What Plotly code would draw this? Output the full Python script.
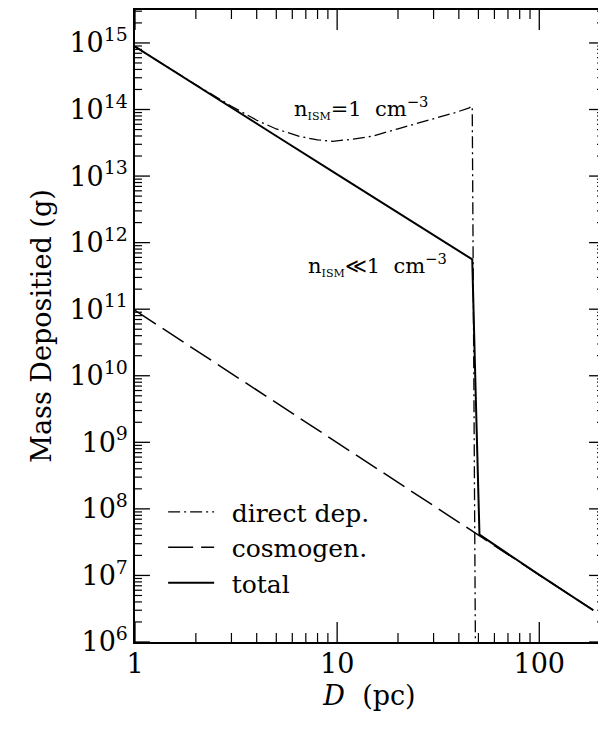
import plotly.graph_objects as go

# ---- data ----
D_direct = [1, 2, 3, 4, 5, 6.5, 8, 9.5, 12, 15, 20, 25, 30, 38, 44.7, 46.6, 48.3]
M_direct = [8.8e14, 2.35e14, 1.12e14, 6.9e13, 5.1e13, 3.95e13, 3.5e13, 3.33e13,
            3.59e13, 3.98e13, 5.13e13, 6.17e13, 7.24e13, 8.9e13, 1.05e14, 1.12e14, 1.0e6]

D_cosmo = [1, 10, 50, 185]
M_cosmo = [9.6e10, 1.0e9, 4.1e7, 3.0e6]

D_total = [1, 2, 5, 10, 20, 46.6, 48.5, 50.6, 100, 185]
M_total = [8.8e14, 2.35e14, 4.0e13, 1.06e13, 2.8e12, 5.6e11, 5.0e9, 4.1e7, 1.02e7, 3.0e6]

x_tickvals = [1, 10, 100]
x_ticktext = ["1", "10", "100"]
y_exponents = list(range(6, 16))
y_tickvals = [10.0 ** e for e in y_exponents]
y_ticktext = ["10<sup>%d</sup>" % e for e in y_exponents]

x_minor = [m * 10 ** e for e in range(0, 3) for m in range(2, 10)]
y_minor = [m * 10.0 ** e for e in range(6, 16) for m in range(2, 10)]

FONT = "DejaVu Serif"
XRANGE = [0, 2.3202]
YRANGE = [6, 15.495]
W, H = 598, 723
ML, MR, MT, MB = 127, 0, 1, 89

x_lo, x_hi = 10 ** XRANGE[0], 10 ** XRANGE[1]
y_lo, y_hi = 10 ** YRANGE[0], 10 ** YRANGE[1]
x_minor = [v for v in x_minor if v <= x_hi]
y_minor = [v for v in y_minor if v <= y_hi]

# pixels per decade of the two log axes (from the layout size)
px_dec_x = (W - ML - MR) / (XRANGE[1] - XRANGE[0])
px_dec_y = (H - MT - MB) / (YRANGE[1] - YRANGE[0])

fig = go.Figure()
fig.add_trace(go.Scatter(x=D_direct, y=M_direct, mode="lines", name="\u2002direct dep.",
                         line=dict(color="black", width=1.3, dash="12px,4px,2px,4px")))
fig.add_trace(go.Scatter(x=D_cosmo, y=M_cosmo, mode="lines", name="\u2002cosmogen.",
                         line=dict(color="black", width=1.5, dash="25px,8px")))
fig.add_trace(go.Scatter(x=D_total, y=M_total, mode="lines", name="\u2002total",
                         line=dict(color="black", width=2)))


# inside tick marks on all four frame sides, drawn as short line segments
def xtick_trace(vals, length_px, width):
    f = 10 ** (length_px / px_dec_y)
    xs, ys = [], []
    for v in vals:
        xs += [v, v, None, v, v, None]
        ys += [y_lo, y_lo * f, None, y_hi, y_hi / f, None]
    return go.Scatter(x=xs, y=ys, mode="lines", showlegend=False, hoverinfo="skip",
                      line=dict(color="black", width=width))


def ytick_trace(vals, length_px, width):
    f = 10 ** (length_px / px_dec_x)
    xs, ys = [], []
    for v in vals:
        xs += [x_lo, x_lo * f, None, x_hi, x_hi / f, None]
        ys += [v, v, None, v, v, None]
    return go.Scatter(x=xs, y=ys, mode="lines", showlegend=False, hoverinfo="skip",
                      line=dict(color="black", width=width))


fig.add_trace(xtick_trace(x_tickvals, 20, 1.3))
fig.add_trace(xtick_trace(x_minor, 9, 1.2))
fig.add_trace(ytick_trace(y_tickvals, 15, 1.3))
fig.add_trace(ytick_trace(y_minor, 7, 1.2))

fig.update_layout(
    xaxis=dict(type="log", range=XRANGE, tickmode="array",
               tickvals=x_tickvals, ticktext=x_ticktext, ticks="",
               ticklabelstandoff=-3,
               showline=True, linecolor="black", linewidth=1.5, mirror=True,
               showgrid=False, zeroline=False,
               tickfont=dict(family=FONT, size=27, color="black"),
               title=dict(text="<i>D</i>  (pc)", font=dict(family=FONT, size=27, color="black"),
                          standoff=8)),
    yaxis=dict(type="log", range=YRANGE, tickmode="array",
               tickvals=y_tickvals, ticktext=y_ticktext, ticks="",
               showline=True, linecolor="black", linewidth=1.5, mirror=True,
               showgrid=False, zeroline=False,
               tickfont=dict(family=FONT, size=27, color="black"),
               title=dict(text="Mass Depositied (g)", font=dict(family=FONT, size=27, color="black"),
                          standoff=10)),
)

fig.add_annotation(x=0.775, y=14.025, xref="x", yref="y", xanchor="left", yanchor="middle",
                   showarrow=False,
                   text="n<sub><span style='font-size:11px'>ISM</span></sub>=1\u00a0\u00a0cm<sup>\u22123</sup>",
                   font=dict(family=FONT, size=21, color="black"))
fig.add_annotation(x=0.847, y=11.67, xref="x", yref="y", xanchor="left", yanchor="middle",
                   showarrow=False,
                   text="n<sub><span style='font-size:11px'>ISM</span></sub>\u226a1\u00a0\u00a0cm<sup>\u22123</sup>",
                   font=dict(family=FONT, size=21, color="black"))

fig.update_layout(
    width=W, height=H,
    margin=dict(l=ML, r=MR, t=MT, b=MB),
    paper_bgcolor="white", plot_bgcolor="white",
    showlegend=True,
    legend=dict(x=0.06, y=0.242, xanchor="left", yanchor="top", bgcolor="rgba(0,0,0,0)",
                borderwidth=0, itemwidth=46,
                font=dict(family=FONT, size=25, color="black")),
)

fig.write_html("out.html")
